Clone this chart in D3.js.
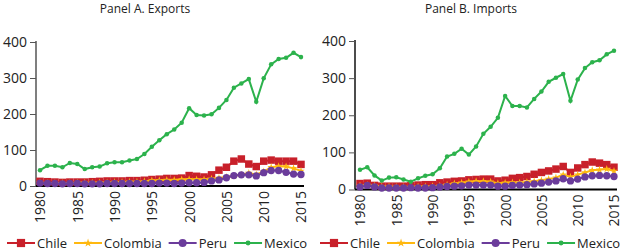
<!DOCTYPE html>
<html>
<head>
<meta charset="utf-8">
<script src="https://cdn.jsdelivr.net/npm/d3@7"></script>
<style>
  body { margin: 0; background: #fff; }
  text { font-family: "Open Sans", sans-serif; fill: #222; }
</style>
</head>
<body>
<div id="chart"></div>
<script>
// chart values
const years = d3.range(1980, 2016);
const xTicks = [1980, 1985, 1990, 1995, 2000, 2005, 2010, 2015];
const yTicks = [0, 100, 200, 300, 400];

const countries = ["Chile", "Colombia", "Peru", "Mexico"];

const chileExports = [13,12,11,10,11,11,11,12,13,14,14,14,15,15,16,18,19,21,21,22,29,27,25,31,44,52,69,75,61,54,69,72,69,69,69,60];
const colombiaExports = [9,8,8,8,8,9,9,9,10,10,11,11,12,12,13,15,16,17,17,18,19,18,18,20,22,25,28,31,36,32,40,52,55,54,49,42];
const peruExports = [8,7,7,6,7,7,6,6,6,7,7,7,7,7,7,7,8,8,7,8,9,9,10,14,17,23,29,31,31,28,37,43,43,38,33,32];
const mexicoExports = [44,56,56,52,64,61,47,52,54,63,66,66,71,75,89,109,127,144,157,176,216,197,196,199,217,239,273,285,297,234,299,338,353,356,370,358];

const chileImports = [16,17,11,9,9,9,9,10,12,13,13,18,20,22,23,26,27,28,28,23,25,30,32,35,41,46,50,55,62,46,58,67,74,71,67,60];
const colombiaImports = [11,12,10,8,8,7,7,7,8,8,9,10,13,16,18,21,22,22,21,17,18,19,18,20,22,25,28,32,40,34,40,46,52,53,55,50];
const peruImports = [7,11,7,4,4,4,4,5,4,4,5,7,8,9,10,12,12,12,12,9,9,11,12,13,15,17,20,23,29,23,28,34,37,38,37,35];
const mexicoImports = [53,60,38,24,32,33,27,21,30,37,41,57,89,96,110,94,116,150,169,193,252,225,225,221,244,264,290,301,311,239,296,327,343,348,364,374];

const colors = ["#c8202a", "#ffb80f", "#6b3c9b", "#2cb24c"];
const symbols = [d3.symbolSquare, d3.symbolStar, d3.symbolCircle, d3.symbolCircle];
const symSize = [56, 18, 42, 16];

const width = 624, height = 251;

const svg = d3.select("#chart")
  .append("svg")
  .attr("width", width)
  .attr("height", height);

const panels = [
  {title: "Panel A. Exports", cx: 145, data: [chileExports, colombiaExports, peruExports, mexicoExports],
   axisX: 36, axisEnd: 304, x0: 40, x1: 301, y0: 186, y1: 42, legendX: 7, yColor: "#555"},
  {title: "Panel B. Imports", cx: 471, data: [chileImports, colombiaImports, peruImports, mexicoImports],
   axisX: 355, axisEnd: 617, x0: 360, x1: 614, y0: 189.5, y1: 41, legendX: 320, yColor: "#111"}
];

panels.forEach(p => {
  const g = svg.append("g");

  const xScale = d3.scaleLinear().domain([1980, 2015]).range([p.x0, p.x1]);
  const yScale = d3.scaleLinear().domain([0, 400]).range([p.y0, p.y1]);

  g.append("text")
    .attr("x", p.cx)
    .attr("y", 13)
    .attr("text-anchor", "middle")
    .style("font-size", "12px")
    .text(p.title);

  // y axis
  const yAxis = g.append("g")
    .attr("transform", "translate(" + p.axisX + ",0)")
    .call(d3.axisLeft(yScale).tickValues(yTicks).tickSize(6).tickPadding(3));
  yAxis.select(".domain").attr("stroke", p.yColor).attr("stroke-width", 1.5)
    .attr("d", "M0," + p.y0 + "V" + (p.y1 - 1));
  yAxis.selectAll(".tick line").attr("stroke", "#555");
  yAxis.selectAll("text").style("font-size", "14px").attr("fill", "#222");

  // x axis with rotated year labels
  const xAxis = g.append("g")
    .attr("transform", "translate(0," + p.y0 + ")")
    .call(d3.axisBottom(xScale).tickValues(xTicks).tickFormat(d3.format("d")).tickSize(0));
  xAxis.select(".domain").attr("stroke", "#000").attr("stroke-width", 2)
    .attr("d", "M" + p.axisX + ",0H" + p.axisEnd);
  xAxis.selectAll("text")
    .style("font-size", "14px")
    .attr("fill", "#222")
    .attr("transform", "rotate(-90)")
    .attr("text-anchor", "end")
    .attr("x", -5)
    .attr("y", 0)
    .attr("dy", "0.35em");

  const line = d3.line()
    .x((d, i) => xScale(years[i]))
    .y(d => yScale(d));

  p.data.forEach((series, k) => {
    const sg = g.append("g");
    sg.append("path")
      .datum(series)
      .attr("fill", "none")
      .attr("stroke", colors[k])
      .attr("stroke-width", 2)
      .attr("d", line);
    sg.selectAll("path.pt")
      .data(series)
      .enter()
      .append("path")
      .attr("class", "pt")
      .attr("transform", (d, i) => "translate(" + xScale(years[i]) + "," + yScale(d) + ")")
      .attr("d", d3.symbol().type(symbols[k]).size(symSize[k]))
      .attr("fill", colors[k]);
  });

  // legend
  let lx = p.legendX;
  const ly = 243;
  countries.forEach((c, k) => {
    const lg = g.append("g").attr("transform", "translate(" + lx + "," + ly + ")");
    lg.append("line")
      .attr("x1", 0).attr("x2", 28)
      .attr("stroke", colors[k]).attr("stroke-width", 2);
    lg.append("path")
      .attr("transform", "translate(14,0)")
      .attr("d", d3.symbol().type(symbols[k]).size(symSize[k] * 1.2))
      .attr("fill", colors[k]);
    const t = lg.append("text")
      .attr("x", 30)
      .attr("dy", "0.35em")
      .style("font-size", "13px")
      .text(c);
    lx += 30 + t.node().getComputedTextLength() + 7;
  });
});
</script>
</body>
</html>
